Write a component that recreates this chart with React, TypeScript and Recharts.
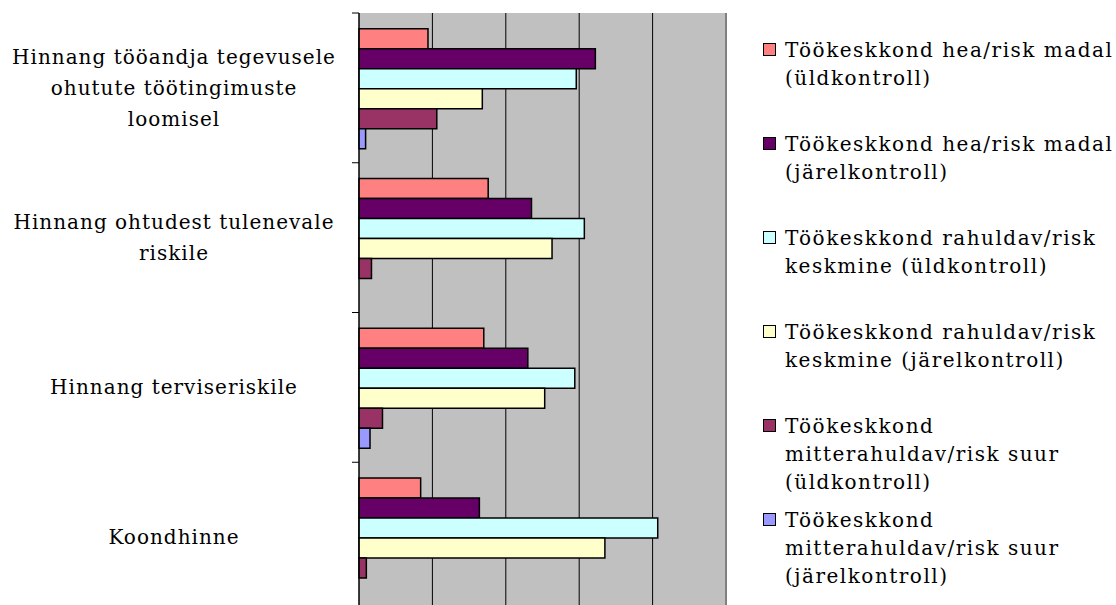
import React from "react";
import {
  BarChart,
  Bar,
  XAxis,
  YAxis,
  CartesianGrid,
  ReferenceLine,
} from "recharts";

const categories = [
  "Hinnang tööandja tegevusele\nohutute töötingimuste\nloomisel",
  "Hinnang ohtudest tulenevale\nriskile",
  "Hinnang terviseriskile",
  "Koondhinne",
];

const seriesNames = [
  "Töökeskkond hea/risk madal\n(üldkontroll)",
  "Töökeskkond hea/risk madal\n(järelkontroll)",
  "Töökeskkond rahuldav/risk\nkeskmine (üldkontroll)",
  "Töökeskkond rahuldav/risk\nkeskmine (järelkontroll)",
  "Töökeskkond\nmitterahuldav/risk suur\n(üldkontroll)",
  "Töökeskkond\nmitterahuldav/risk suur\n(järelkontroll)",
];

const seriesColors = ["#FF8080", "#660066", "#CCFFFF", "#FFFFCC", "#993366", "#9999FF"];

const heaUld = [9.4, 17.6, 17.0, 8.4];
const heaJarel = [32.2, 23.5, 23.0, 16.4];
const rahuldavUld = [29.6, 30.7, 29.4, 40.7];
const rahuldavJarel = [16.8, 26.3, 25.3, 33.5];
const mitteUld = [10.6, 1.7, 3.2, 1.0];
const mitteJarel = [0.9, 0, 1.5, 0];

const xTicks = [0, 10, 20, 30, 40, 50];

const seriesValues = [heaUld, heaJarel, rahuldavUld, rahuldavJarel, mitteUld, mitteJarel];

const data = categories.map((category, i) => {
  const row: Record<string, string | number> = { category };
  seriesValues.forEach((vals, s) => {
    row[`s${s}`] = vals[i];
  });
  return row;
});

const FONT = "'DejaVu Serif', serif";
const FONT_SIZE = 20;
const TEXT_COLOR = "#000";

const CategoryTick = (props: any) => {
  const { x, y, payload, index } = props;
  const lines: string[] = String(payload.value).split("\n");
  const lh = 31;
  const half = payload.offset ?? 0;
  const cx = x - 178;
  const startY = y - ((lines.length - 1) * lh) / 2;
  return (
    <g>
      <line x1={x} x2={x + 7} y1={y - half} y2={y - half} stroke="#000" />
      {index === categories.length - 1 && (
        <line x1={x} x2={x + 7} y1={y + half} y2={y + half} stroke="#000" />
      )}
      <text
        x={cx}
        y={startY}
        textAnchor="middle"
        dominantBaseline="central"
        fontFamily={FONT}
        fontSize={FONT_SIZE}
        letterSpacing={1}
        fill={TEXT_COLOR}
      >
        {lines.map((l, i) => (
          <tspan key={i} x={cx} dy={i === 0 ? 0 : lh}>
            {l}
          </tspan>
        ))}
      </text>
    </g>
  );
};

// value labels of the x axis sit below the visible area in the reference
const EmptyTick = () => <g />;

const Legend = () => (
  <div
    style={{
      position: "absolute",
      left: 763,
      top: 36,
      fontFamily: FONT,
      fontSize: FONT_SIZE,
      letterSpacing: 1.5,
      lineHeight: "28px",
      color: TEXT_COLOR,
    }}
  >
    {seriesNames.map((name, i) => (
      <div key={i} style={{ position: "relative", height: 94, paddingLeft: 22 }}>
        <span
          style={{
            position: "absolute",
            left: 0,
            top: 7,
            width: 11,
            height: 11,
            background: seriesColors[i],
            border: "1.5px solid #000",
          }}
        />
        <div style={{ whiteSpace: "pre" }}>{name}</div>
      </div>
    ))}
  </div>
);

export default function App() {
  return (
    <div
      style={{
        position: "absolute",
        left: 0,
        top: 0,
        width: 1116,
        height: 605,
        overflow: "hidden",
        background: "#fff",
      }}
    >
      <BarChart
        layout="vertical"
        width={1116}
        height={642}
        data={data}
        margin={{ top: 13, right: 390, bottom: 0, left: 0 }}
        barGap={0}
        barCategoryGap="10.5%"
      >
        <CartesianGrid horizontal={false} stroke="#000" fill="#C0C0C0" />
        <XAxis
          type="number"
          domain={[0, 50]}
          ticks={xTicks}
          tick={<EmptyTick />}
          tickLine={false}
          axisLine={false}
        />
        <XAxis
          xAxisId="top"
          orientation="top"
          type="number"
          domain={[0, 50]}
          height={0}
          tick={false}
          tickLine={false}
          axisLine={{ stroke: "#808080", strokeWidth: 2 }}
        />
        <YAxis
          type="category"
          dataKey="category"
          width={359}
          interval={0}
          tickLine={false}
          tickSize={7}
          tickMargin={0}
          axisLine={{ stroke: "#000" }}
          tick={<CategoryTick />}
        />
        <ReferenceLine x={50} stroke="#808080" strokeWidth={2} />
        {seriesNames.map((name, i) => (
          <Bar
            key={i}
            dataKey={`s${i}`}
            name={name}
            fill={seriesColors[i]}
            stroke="#000"
            strokeWidth={1.5}
            isAnimationActive={false}
          />
        ))}
      </BarChart>
      <Legend />
    </div>
  );
}
